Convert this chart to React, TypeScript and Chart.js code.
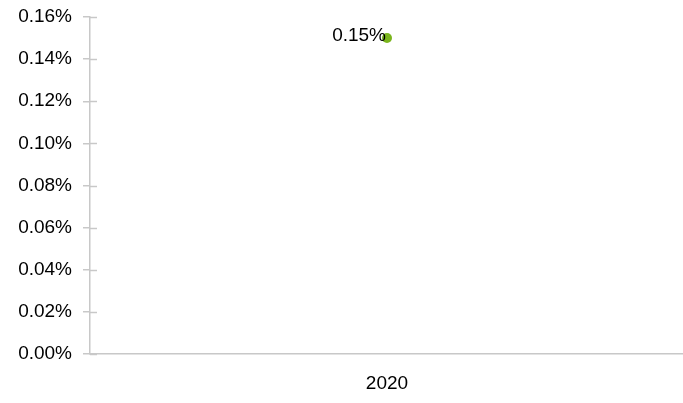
import React, { useEffect, useRef } from "react";
import { Chart, registerables } from "chart.js";
Chart.register(...registerables);

const categories = ["2020"];
const values = [0.0015];
const yTicks = [0, 0.0002, 0.0004, 0.0006, 0.0008, 0.001, 0.0012, 0.0014, 0.0016];

const FONT = "'Liberation Sans', Arial, sans-serif";
const FS = 19;
const AXIS = "#c8c8c8";

const innerTicks = {
  id: "innerTicks",
  afterDraw(chart: any) {
    const ctx = chart.ctx;
    const y = chart.scales.y;
    const left = chart.chartArea.left;
    ctx.save();
    ctx.strokeStyle = AXIS;
    ctx.lineWidth = 1.5;
    y.ticks.forEach((t: any) => {
      const py = Math.round(y.getPixelForValue(t.value)) + 0.5;
      ctx.beginPath();
      ctx.moveTo(left, py);
      ctx.lineTo(left + 7, py);
      ctx.stroke();
    });
    ctx.restore();
  },
};

const pointLabels = {
  id: "pointLabels",
  afterDatasetsDraw(chart: any) {
    const ctx = chart.ctx;
    const meta = chart.getDatasetMeta(0);
    ctx.save();
    ctx.font = `${FS}px ${FONT}`;
    ctx.fillStyle = "#000";
    ctx.textAlign = "right";
    ctx.textBaseline = "middle";
    meta.data.forEach((p: any, i: number) => {
      const v = values[i];
      ctx.fillText((v * 100).toFixed(2) + "%", p.x - 1, p.y - 2);
    });
    ctx.restore();
  },
};

const zeroPad = (s: any) => {
  s.paddingLeft = 0;
  s.paddingRight = 0;
  s.paddingTop = 0;
  s.paddingBottom = 0;
};

export default function App() {
  const ref = useRef<HTMLCanvasElement>(null);
  useEffect(() => {
    document.body.style.margin = "0";
    const chart = new Chart(ref.current!, {
      type: "line",
      data: {
        labels: categories,
        datasets: [
          {
            data: values,
            borderColor: "#7ab51d",
            backgroundColor: "#7ab51d",
            pointRadius: 5,
            pointBorderWidth: 0,
            showLine: false,
          },
        ],
      },
      options: {
        animation: false,
        responsive: false,
        layout: { padding: { top: 17, right: 0, left: 0, bottom: 0 } },
        plugins: { legend: { display: false }, tooltip: { enabled: false } },
        scales: {
          x: {
            offset: true,
            grid: { display: false, drawTicks: false },
            border: { color: AXIS, width: 1.5 },
            ticks: { font: { family: FONT, size: FS }, color: "#000", padding: 18 },
            afterFit: (s: any) => {
              s.height = 49;
              zeroPad(s);
            },
          },
          y: {
            min: 0,
            max: 0.0016,
            afterBuildTicks: (s: any) => { s.ticks = yTicks.map((v) => ({ value: v })); },
            grid: { drawOnChartArea: false, tickLength: 7, color: AXIS, lineWidth: 1.5 },
            border: { color: AXIS, width: 1.5 },
            ticks: {
              font: { family: FONT, size: FS },
              color: "#000",
              padding: 11,
              callback: (v: any) => (Number(v) * 100).toFixed(2) + "%",
            },
            afterFit: (s: any) => {
              s.width = 90;
              zeroPad(s);
            },
          },
        },
      },
      plugins: [innerTicks, pointLabels],
    });
    return () => chart.destroy();
  }, []);
  return (
    <div style={{ width: 683, height: 403, overflow: "hidden" }}>
      <canvas ref={ref} width={689} height={403} style={{ display: "block" }} />
    </div>
  );
}
